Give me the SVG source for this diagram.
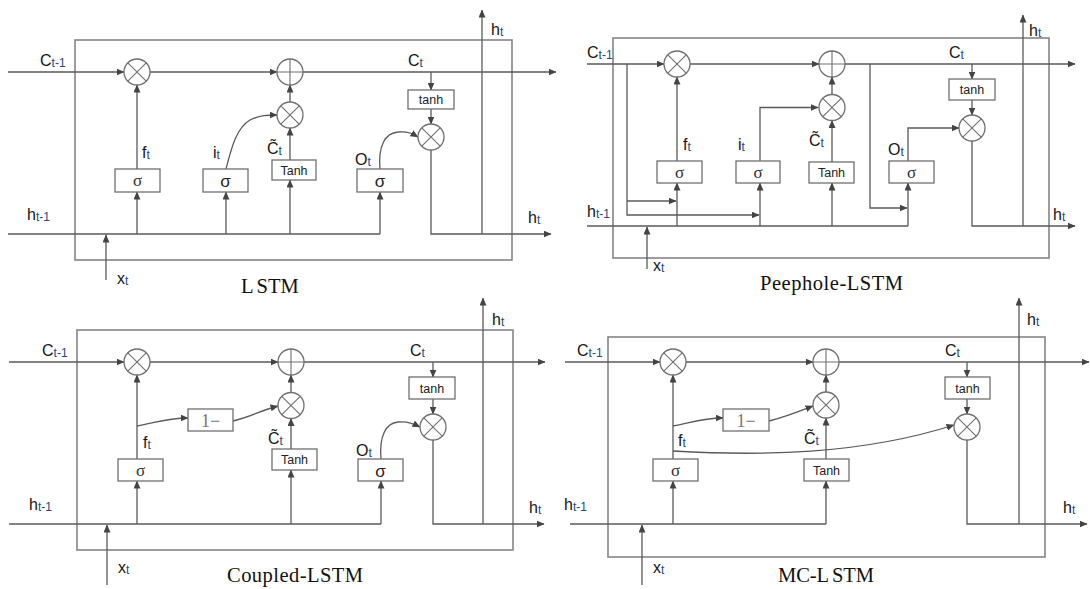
<svg xmlns="http://www.w3.org/2000/svg" xmlns:xlink="http://www.w3.org/1999/xlink" width="1090" height="589" viewBox="0 0 1090 589">
<style>
.ln{stroke:#5a5a5a;stroke-width:1.3;fill:none}
.fr{stroke:#858585;stroke-width:1.6;fill:none}
.bx{fill:#fff;stroke:#707070;stroke-width:1.3}
.op{fill:#fff;stroke:#707070;stroke-width:1.3}
.opl{stroke:#707070;stroke-width:1.1;fill:none}
.lb{font-family:"Liberation Sans",Arial,sans-serif;font-size:16px;fill:#151515}
.sb{font-size:12px;fill:#23467e}
.bt{font-family:"Liberation Sans",Arial,sans-serif;font-size:12.5px;fill:#222;text-anchor:middle}
.sg{font-family:"Liberation Serif","Times New Roman",serif;font-size:17px;fill:#333;text-anchor:middle}
.sgb{font-family:"Liberation Sans",Arial,sans-serif;font-size:17px;fill:#222;text-anchor:middle}
.om{font-family:"Liberation Serif","Times New Roman",serif;font-size:18px;fill:#777;text-anchor:middle}
.tt{font-family:"Liberation Serif","Times New Roman",serif;font-size:20.5px;fill:#111}
</style>
<defs>
<marker id="a" markerWidth="8" markerHeight="7" refX="7.5" refY="3.5" orient="auto" markerUnits="userSpaceOnUse"><path d="M0,0 L8,3.5 L0,7 z" fill="#444"/></marker>
<g id="mul"><circle r="13" class="op"/><path d="M-9.2,-9.2 L9.2,9.2 M-9.2,9.2 L9.2,-9.2" class="opl"/></g>
<g id="add"><circle r="13" class="op"/><path d="M-13,0 H13 M0,-13 V13" class="opl"/></g>
</defs>
<rect width="1090" height="589" fill="#fff"/>

<!-- ================= Panel 1: LSTM ================= -->
<g id="lstm-frame"><rect x="75" y="40" width="437" height="220" class="fr"/></g>
<g id="lstm-connectors">
<path class="ln" d="M8,72 H124" marker-end="url(#a)"/>
<path class="ln" d="M150,72 H277" marker-end="url(#a)"/>
<path class="ln" d="M303,72 H556" marker-end="url(#a)"/>
<path class="ln" d="M8,234 H380"/>
<path class="ln" d="M106,280 V235" marker-end="url(#a)"/>
<path class="ln" d="M137,234 V192" marker-end="url(#a)"/>
<path class="ln" d="M137,169 V85" marker-end="url(#a)"/>
<path class="ln" d="M226,234 V192" marker-end="url(#a)"/>
<path class="ln" d="M226,169 C231,150 236,128 250,120 C260,115 268,115 277,115" marker-end="url(#a)"/>
<path class="ln" d="M290,234 V180" marker-end="url(#a)"/>
<path class="ln" d="M290,160 V128" marker-end="url(#a)"/>
<path class="ln" d="M290,102 V85" marker-end="url(#a)"/>
<path class="ln" d="M380,234 V192" marker-end="url(#a)"/>
<path class="ln" d="M380,169 C378,146 385,133 398,132 C408,131 413,134 418,137" marker-end="url(#a)"/>
<path class="ln" d="M431,72 V90" marker-end="url(#a)"/>
<path class="ln" d="M431,109 V124" marker-end="url(#a)"/>
<path class="ln" d="M431,150 V234 H551" marker-end="url(#a)"/>
<path class="ln" d="M482,234 V10" marker-end="url(#a)"/>
</g>
<g id="lstm-forget-mul"><use xlink:href="#mul" x="137" y="72"/></g>
<g id="lstm-add"><use xlink:href="#add" x="290" y="72"/></g>
<g id="lstm-input-mul"><use xlink:href="#mul" x="290" y="115"/></g>
<g id="lstm-out-mul"><use xlink:href="#mul" x="431" y="137"/></g>
<g id="lstm-forget-gate"><rect x="115" y="169" width="45" height="23" class="bx"/><text x="137.5" y="186" class="sg">σ</text></g>
<g id="lstm-input-gate"><rect x="203" y="169" width="45" height="23" class="bx"/><text x="225.5" y="186.5" class="sgb">σ</text></g>
<g id="lstm-cand"><rect x="272" y="160" width="44" height="20" class="bx"/><text x="294" y="174.5" class="bt">Tanh</text></g>
<g id="lstm-out-gate"><rect x="357" y="169" width="46" height="23" class="bx"/><text x="380" y="186.5" class="sgb">σ</text></g>
<g id="lstm-tanh"><rect x="408" y="90" width="46" height="19" class="bx"/><text x="431" y="104" class="bt">tanh</text></g>
<g id="lstm-labels">
<text x="40" y="66" class="lb">C<tspan class="sb" dy="1">t-1</tspan></text>
<text x="27" y="220" class="lb">h<tspan class="sb" dy="1">t-1</tspan></text>
<text x="117" y="284" class="lb">x<tspan class="sb" dy="1">t</tspan></text>
<text x="142" y="158" class="lb">f<tspan class="sb" dy="1">t</tspan></text>
<text x="213" y="158" class="lb">i<tspan class="sb" dy="1">t</tspan></text>
<text x="267" y="154" class="lb">C̃<tspan class="sb" dy="1">t</tspan></text>
<text x="355" y="165" class="lb">O<tspan class="sb" dy="1">t</tspan></text>
<text x="408" y="66" class="lb">C<tspan class="sb" dy="1">t</tspan></text>
<text x="491" y="35" class="lb">h<tspan class="sb" dy="1">t</tspan></text>
<text x="528" y="223" class="lb">h<tspan class="sb" dy="1">t</tspan></text>
<text x="241" y="293" class="tt">L<tspan dx="3">STM</tspan></text>
</g>

<!-- ================= Panel 2: Peephole-LSTM ================= -->
<g id="peep-frame"><rect x="613" y="38" width="436" height="220" class="fr"/></g>
<g id="peep-connectors">
<path class="ln" d="M587,64 H664" marker-end="url(#a)"/>
<path class="ln" d="M690,64 H819" marker-end="url(#a)"/>
<path class="ln" d="M845,64 H1075" marker-end="url(#a)"/>
<path class="ln" d="M627,64 V215 H759" marker-end="url(#a)"/>
<path class="ln" d="M627,201 H676" marker-end="url(#a)"/>
<path class="ln" d="M587,226 H908"/>
<path class="ln" d="M647,269 V227" marker-end="url(#a)"/>
<path class="ln" d="M677,226 V183" marker-end="url(#a)"/>
<path class="ln" d="M677,161 V77" marker-end="url(#a)"/>
<path class="ln" d="M760,226 V183" marker-end="url(#a)"/>
<path class="ln" d="M760,161 V107.5 H818" marker-end="url(#a)"/>
<path class="ln" d="M832,226 V183" marker-end="url(#a)"/>
<path class="ln" d="M832,162 V120.5" marker-end="url(#a)"/>
<path class="ln" d="M832,94.5 V77" marker-end="url(#a)"/>
<path class="ln" d="M870,64 V208 H907" marker-end="url(#a)"/>
<path class="ln" d="M908,226 V183" marker-end="url(#a)"/>
<path class="ln" d="M908,161 V128 H959" marker-end="url(#a)"/>
<path class="ln" d="M972,64 V79" marker-end="url(#a)"/>
<path class="ln" d="M972,100 V115" marker-end="url(#a)"/>
<path class="ln" d="M972,141 V226 H1075" marker-end="url(#a)"/>
<path class="ln" d="M1023,226 V15" marker-end="url(#a)"/>
</g>
<g id="peep-forget-mul"><use xlink:href="#mul" x="677" y="64"/></g>
<g id="peep-add"><use xlink:href="#add" x="832" y="64"/></g>
<g id="peep-input-mul"><use xlink:href="#mul" x="832" y="107.5"/></g>
<g id="peep-out-mul"><use xlink:href="#mul" x="972" y="128"/></g>
<g id="peep-forget-gate"><rect x="657" y="161" width="45" height="22" class="bx"/><text x="679.5" y="177.5" class="sg">σ</text></g>
<g id="peep-input-gate"><rect x="736" y="161" width="44" height="22" class="bx"/><text x="758" y="177.5" class="sg">σ</text></g>
<g id="peep-cand"><rect x="809" y="162" width="45" height="21" class="bx"/><text x="831.5" y="177" class="bt">Tanh</text></g>
<g id="peep-out-gate"><rect x="889" y="161" width="45" height="22" class="bx"/><text x="911.5" y="177.5" class="sg">σ</text></g>
<g id="peep-tanh"><rect x="949" y="79" width="46" height="21" class="bx"/><text x="972" y="94" class="bt">tanh</text></g>
<g id="peep-labels">
<text x="587" y="58" class="lb">C<tspan class="sb" dy="1">t-1</tspan></text>
<text x="587" y="217" class="lb">h<tspan class="sb" dy="1">t-1</tspan></text>
<text x="653" y="271" class="lb">x<tspan class="sb" dy="1">t</tspan></text>
<text x="683" y="150" class="lb">f<tspan class="sb" dy="1">t</tspan></text>
<text x="738" y="150" class="lb">i<tspan class="sb" dy="1">t</tspan></text>
<text x="809" y="146" class="lb">C̃<tspan class="sb" dy="1">t</tspan></text>
<text x="888" y="155" class="lb">O<tspan class="sb" dy="1">t</tspan></text>
<text x="949" y="58" class="lb">C<tspan class="sb" dy="1">t</tspan></text>
<text x="1029" y="36" class="lb">h<tspan class="sb" dy="1">t</tspan></text>
<text x="1053" y="220" class="lb">h<tspan class="sb" dy="1">t</tspan></text>
<text x="760" y="290" class="tt" textLength="143" lengthAdjust="spacing">Peephole-LSTM</text>
</g>

<!-- ================= Panel 3: Coupled-LSTM ================= -->
<g id="coup-frame"><rect x="77" y="330" width="436" height="220" class="fr"/></g>
<g id="coup-connectors">
<path class="ln" d="M9,362 H124" marker-end="url(#a)"/>
<path class="ln" d="M150,362 H278" marker-end="url(#a)"/>
<path class="ln" d="M304,362 H545" marker-end="url(#a)"/>
<path class="ln" d="M9,524 H381"/>
<path class="ln" d="M107,585 V525" marker-end="url(#a)"/>
<path class="ln" d="M137,524 V481" marker-end="url(#a)"/>
<path class="ln" d="M137,459 V375" marker-end="url(#a)"/>
<path class="ln" d="M137,426 C155,423 166,418 188,418" marker-end="url(#a)"/>
<path class="ln" d="M233,421 C250,417 262,410 278,406" marker-end="url(#a)"/>
<path class="ln" d="M291,524 V470" marker-end="url(#a)"/>
<path class="ln" d="M291,449 V418.5" marker-end="url(#a)"/>
<path class="ln" d="M291,392.5 V375" marker-end="url(#a)"/>
<path class="ln" d="M381,524 V481" marker-end="url(#a)"/>
<path class="ln" d="M381,459 C379,436 386,423 398,422 C408,421 414,424 420,427" marker-end="url(#a)"/>
<path class="ln" d="M433,362 V377" marker-end="url(#a)"/>
<path class="ln" d="M433,399 V414" marker-end="url(#a)"/>
<path class="ln" d="M433,440 V524 H544" marker-end="url(#a)"/>
<path class="ln" d="M483,524 V298" marker-end="url(#a)"/>
</g>
<g id="coup-forget-mul"><use xlink:href="#mul" x="137" y="362"/></g>
<g id="coup-add"><use xlink:href="#add" x="291" y="362"/></g>
<g id="coup-input-mul"><use xlink:href="#mul" x="291" y="405.5"/></g>
<g id="coup-out-mul"><use xlink:href="#mul" x="433" y="427"/></g>
<g id="coup-forget-gate"><rect x="118" y="459" width="45" height="22" class="bx"/><text x="140.5" y="475.5" class="sg">σ</text></g>
<g id="coup-one-minus"><rect x="188" y="409" width="45" height="22" class="bx"/><text x="210.5" y="426.5" class="om">1−</text></g>
<g id="coup-cand"><rect x="272" y="449" width="45" height="21" class="bx"/><text x="294.5" y="464" class="bt">Tanh</text></g>
<g id="coup-out-gate"><rect x="358" y="459" width="45" height="22" class="bx"/><text x="380.5" y="476.5" class="sgb">σ</text></g>
<g id="coup-tanh"><rect x="409" y="377" width="46" height="22" class="bx"/><text x="432" y="392.5" class="bt">tanh</text></g>
<g id="coup-labels">
<text x="42" y="356" class="lb">C<tspan class="sb" dy="1">t-1</tspan></text>
<text x="29" y="510" class="lb">h<tspan class="sb" dy="1">t-1</tspan></text>
<text x="118" y="573" class="lb">x<tspan class="sb" dy="1">t</tspan></text>
<text x="143" y="448" class="lb">f<tspan class="sb" dy="1">t</tspan></text>
<text x="268" y="444" class="lb">C̃<tspan class="sb" dy="1">t</tspan></text>
<text x="356" y="456" class="lb">O<tspan class="sb" dy="1">t</tspan></text>
<text x="410" y="356" class="lb">C<tspan class="sb" dy="1">t</tspan></text>
<text x="492" y="325" class="lb">h<tspan class="sb" dy="1">t</tspan></text>
<text x="529" y="513" class="lb">h<tspan class="sb" dy="1">t</tspan></text>
<text x="227" y="582" class="tt" textLength="136" lengthAdjust="spacing">Coupled-LSTM</text>
</g>

<!-- ================= Panel 4: MC-LSTM ================= -->
<g id="mc-frame"><rect x="608" y="337" width="437" height="220" class="fr"/></g>
<g id="mc-connectors">
<path class="ln" d="M565,362 H660" marker-end="url(#a)"/>
<path class="ln" d="M686,362 H813" marker-end="url(#a)"/>
<path class="ln" d="M839,362 H1089" marker-end="url(#a)"/>
<path class="ln" d="M570,524 H826"/>
<path class="ln" d="M642,585 V525" marker-end="url(#a)"/>
<path class="ln" d="M673,524 V481" marker-end="url(#a)"/>
<path class="ln" d="M673,459 V375" marker-end="url(#a)"/>
<path class="ln" d="M673,426 C690,423 702,418 723,418" marker-end="url(#a)"/>
<path class="ln" d="M769,421 C785,417 800,411 813,406" marker-end="url(#a)"/>
<path class="ln" d="M673,451 C760,456 860,455 954,425" marker-end="url(#a)"/>
<path class="ln" d="M826,524 V481" marker-end="url(#a)"/>
<path class="ln" d="M826,459 V418" marker-end="url(#a)"/>
<path class="ln" d="M826,392 V375" marker-end="url(#a)"/>
<path class="ln" d="M967,362 V377" marker-end="url(#a)"/>
<path class="ln" d="M967,399 V414" marker-end="url(#a)"/>
<path class="ln" d="M967,440 V524 H1087" marker-end="url(#a)"/>
<path class="ln" d="M1019,524 V298" marker-end="url(#a)"/>
</g>
<g id="mc-forget-mul"><use xlink:href="#mul" x="673" y="362"/></g>
<g id="mc-add"><use xlink:href="#add" x="826" y="362"/></g>
<g id="mc-input-mul"><use xlink:href="#mul" x="826" y="405"/></g>
<g id="mc-out-mul"><use xlink:href="#mul" x="967" y="427"/></g>
<g id="mc-forget-gate"><rect x="653" y="459" width="45" height="22" class="bx"/><text x="675.5" y="475.5" class="sg">σ</text></g>
<g id="mc-one-minus"><rect x="723" y="409" width="46" height="22" class="bx"/><text x="746" y="426.5" class="om">1−</text></g>
<g id="mc-cand"><rect x="804" y="459" width="45" height="22" class="bx"/><text x="826.5" y="474.5" class="bt">Tanh</text></g>
<g id="mc-tanh"><rect x="945" y="377" width="45" height="22" class="bx"/><text x="967.5" y="392.5" class="bt">tanh</text></g>
<g id="mc-labels">
<text x="577" y="356" class="lb">C<tspan class="sb" dy="1">t-1</tspan></text>
<text x="564" y="510" class="lb">h<tspan class="sb" dy="1">t-1</tspan></text>
<text x="653" y="573" class="lb">x<tspan class="sb" dy="1">t</tspan></text>
<text x="678" y="446" class="lb">f<tspan class="sb" dy="1">t</tspan></text>
<text x="804" y="444" class="lb">C̃<tspan class="sb" dy="1">t</tspan></text>
<text x="945" y="356" class="lb">C<tspan class="sb" dy="1">t</tspan></text>
<text x="1027" y="325" class="lb">h<tspan class="sb" dy="1">t</tspan></text>
<text x="1063" y="513" class="lb">h<tspan class="sb" dy="1">t</tspan></text>
<text x="778" y="582" class="tt" textLength="96" lengthAdjust="spacing">MC-L<tspan dx="3">STM</tspan></text>
</g>
</svg>
